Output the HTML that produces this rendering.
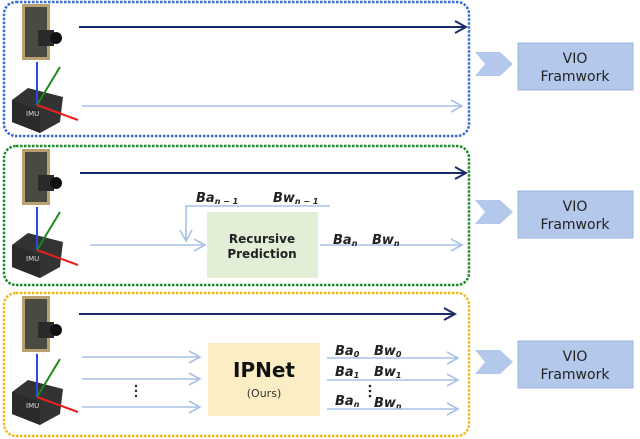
<!DOCTYPE html>
<html><head><style>body{margin:0;background:#fff}svg{display:block}text{font-family:"DejaVu Sans","Liberation Sans",sans-serif}</style></head><body>
<svg width="640" height="439" viewBox="0 0 640 439" xmlns="http://www.w3.org/2000/svg">
<defs>
<marker id="ad" markerWidth="14" markerHeight="14" refX="12" refY="7" orient="auto" markerUnits="userSpaceOnUse"><path d="M1,1 L12,7 L1,13" fill="none" stroke="#1a2a6a" stroke-width="2"/></marker>
<marker id="al" markerWidth="14" markerHeight="14" refX="12" refY="7" orient="auto" markerUnits="userSpaceOnUse"><path d="M1,1 L12,7 L1,13" fill="none" stroke="#a9c0e8" stroke-width="1.6"/></marker>
<g id="sens">
<rect x="22" y="4" width="28" height="56" fill="#b8a070"/>
<rect x="25" y="7" width="22" height="50" fill="#4a4a40"/>
<rect x="38" y="30" width="16" height="16" fill="#2a2a2a"/>
<circle cx="56" cy="38" r="6" fill="#111"/>
<polygon points="12,100 28,88 63,97 60,122 40,133 12,122" fill="#333"/>
<polygon points="12,100 40,110 40,133 12,122" fill="#2a2a2a"/>
<text x="26" y="116" font-size="7" fill="#ddd">IMU</text>
<line x1="37" y1="105" x2="37" y2="62" stroke="#2a4ae8" stroke-width="2"/>
<line x1="37" y1="105" x2="60" y2="67" stroke="#1a8a1a" stroke-width="2"/>
<line x1="37" y1="105" x2="78" y2="120" stroke="#e82020" stroke-width="2"/>
</g>
<g id="vio">
<path d="M475,52 L500,52 L513,64 L500,76 L475,76 L485,64 Z" fill="#b4c8ec"/>
<rect x="518" y="43" width="115" height="47" fill="#b4c8ec" stroke="#9fb6e0"/>
<text x="575" y="63" font-size="14" text-anchor="middle" fill="#222">VIO</text>
<text x="575" y="81" font-size="14" text-anchor="middle" fill="#222">Framwork</text>
</g>
</defs>
<rect x="4" y="2" width="465" height="134" rx="12" fill="none" stroke="#3a6ad8" stroke-width="2.5" stroke-dasharray="2.5,1.5"/>
<rect x="4" y="146" width="465" height="139" rx="12" fill="none" stroke="#1a8a2a" stroke-width="2.5" stroke-dasharray="2.5,1.5"/>
<rect x="4" y="293" width="465" height="143" rx="12" fill="none" stroke="#f0b820" stroke-width="2.5" stroke-dasharray="2.5,1.5"/>
<use href="#sens"/><use href="#sens" y="145"/><use href="#sens" y="292"/>
<use href="#vio"/><use href="#vio" y="148"/><use href="#vio" y="298"/>
<line x1="79" y1="27" x2="466" y2="27" stroke="#1a2a6a" stroke-width="2" marker-end="url(#ad)"/>
<line x1="82" y1="106" x2="462" y2="106" stroke="#a9c0e8" stroke-width="1.6" marker-end="url(#al)"/>
<line x1="80" y1="173" x2="466" y2="173" stroke="#1a2a6a" stroke-width="2" marker-end="url(#ad)"/>
<rect x="207" y="212" width="111" height="66" fill="#e2efd6"/>
<text x="262" y="243" font-size="12" font-weight="bold" text-anchor="middle" fill="#222">Recursive</text>
<text x="262" y="258" font-size="12" font-weight="bold" text-anchor="middle" fill="#222">Prediction</text>
<polyline points="330,206 186,206 186,241" fill="none" stroke="#a9c0e8" stroke-width="1.6" marker-end="url(#al)"/>
<line x1="90" y1="245" x2="205" y2="245" stroke="#a9c0e8" stroke-width="1.6" marker-end="url(#al)"/>
<line x1="320" y1="245" x2="462" y2="245" stroke="#a9c0e8" stroke-width="1.6" marker-end="url(#al)"/>
<g font-family="Liberation Serif" font-style="italic" font-weight="bold" fill="#222">
<text x="196" y="202" font-size="13">Ba<tspan font-size="8" dy="2">n − 1</tspan></text>
<text x="273" y="202" font-size="13">Bw<tspan font-size="8" dy="2">n − 1</tspan></text>
<text x="333" y="244" font-size="13">Ba<tspan font-size="8" dy="2">n</tspan></text>
<text x="372" y="244" font-size="13">Bw<tspan font-size="8" dy="2">n</tspan></text>
<text x="335" y="355" font-size="13">Ba<tspan font-size="8" dy="2">0</tspan></text>
<text x="374" y="355" font-size="13">Bw<tspan font-size="8" dy="2">0</tspan></text>
<text x="335" y="376" font-size="13">Ba<tspan font-size="8" dy="2">1</tspan></text>
<text x="374" y="376" font-size="13">Bw<tspan font-size="8" dy="2">1</tspan></text>
<text x="335" y="405" font-size="13">Ba<tspan font-size="8" dy="2">n</tspan></text>
<text x="374" y="407" font-size="13">Bw<tspan font-size="8" dy="2">n</tspan></text>
</g>
<line x1="79" y1="314" x2="455" y2="314" stroke="#1a2a6a" stroke-width="2" marker-end="url(#ad)"/>
<rect x="208" y="343" width="112" height="73" fill="#fbeec4"/>
<text x="264" y="377" font-size="20" font-weight="bold" text-anchor="middle" fill="#111">IPNet</text>
<text x="264" y="397" font-size="11" text-anchor="middle" fill="#333">(Ours)</text>
<line x1="82" y1="357" x2="200" y2="357" stroke="#a9c0e8" stroke-width="1.6" marker-end="url(#al)"/>
<line x1="82" y1="379" x2="200" y2="379" stroke="#a9c0e8" stroke-width="1.6" marker-end="url(#al)"/>
<line x1="82" y1="407" x2="200" y2="407" stroke="#a9c0e8" stroke-width="1.6" marker-end="url(#al)"/>
<line x1="327" y1="358" x2="458" y2="358" stroke="#a9c0e8" stroke-width="1.6" marker-end="url(#al)"/>
<line x1="327" y1="380" x2="458" y2="380" stroke="#a9c0e8" stroke-width="1.6" marker-end="url(#al)"/>
<line x1="327" y1="409" x2="458" y2="409" stroke="#a9c0e8" stroke-width="1.6" marker-end="url(#al)"/>
<g fill="#222"><circle cx="136" cy="386" r="1.2"/><circle cx="136" cy="391" r="1.2"/><circle cx="136" cy="396" r="1.2"/>
<circle cx="370" cy="386" r="1.3"/><circle cx="370" cy="391" r="1.3"/><circle cx="370" cy="396" r="1.3"/></g>
</svg>
</body></html>
